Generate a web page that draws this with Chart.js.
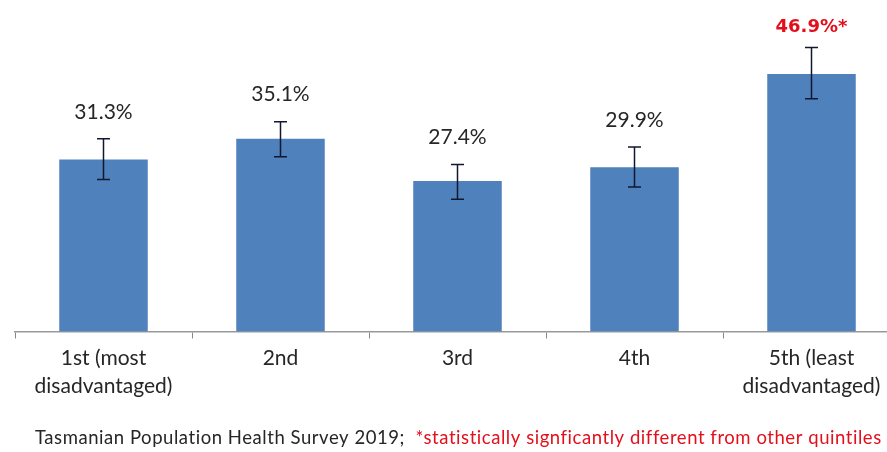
<!DOCTYPE html>
<html lang="en">
<head>
    <meta charset="UTF-8">
    <title>Quintile bar chart</title>
    <script src="https://cdn.jsdelivr.net/npm/chart.js"></script>
    <style>
        html, body { margin: 0; padding: 0; background: #fff; overflow: hidden; }
    </style>
</head>
<body>
    <canvas id="myChart" width="905" height="452"></canvas>

    <script>
        // data
        const categories = [['1st (most', 'disadvantaged)'], '2nd', '3rd', '4th', ['5th (least', 'disadvantaged)']];
        const values = [31.3, 35.1, 27.4, 29.9, 46.9];
        const ciLow = [27.7, 31.8, 24.1, 26.3, 42.4];
        const ciHigh = [35.1, 38.2, 30.4, 33.6, 51.7];
        const valueLabels = ['31.3%', '35.1%', '27.4%', '29.9%', '46.9%*'];
        const significant = [false, false, false, false, true];
        const sourceText = 'Tasmanian Population Health Survey 2019;';
        const noteText = '*statistically signficantly different from other quintiles';

        const FONT = 'Lato, "DejaVu Sans", sans-serif';

        // error bars + value labels + footer
        const extrasPlugin = {
            id: 'extras',
            afterDatasetsDraw: (chart) => {
                const { ctx, scales: { x, y } } = chart;
                ctx.save();
                ctx.strokeStyle = '#101830';
                ctx.lineWidth = 1.5;
                values.forEach((v, i) => {
                    const xp = x.getPixelForValue(i);
                    const yt = y.getPixelForValue(ciHigh[i]);
                    const yb = y.getPixelForValue(ciLow[i]);
                    ctx.beginPath();
                    ctx.moveTo(xp, yt); ctx.lineTo(xp, yb);
                    ctx.moveTo(xp - 6.5, yt); ctx.lineTo(xp + 6.5, yt);
                    ctx.moveTo(xp - 6.5, yb); ctx.lineTo(xp + 6.5, yb);
                    ctx.stroke();

                    ctx.textAlign = 'center';
                    ctx.textBaseline = 'middle';
                    if (significant[i]) {
                        ctx.font = 'bold 18px "DejaVu Sans", sans-serif';
                        ctx.fillStyle = '#e3101c';
                        ctx.fillText(valueLabels[i], xp, yt - 20);
                    } else {
                        ctx.font = '21px ' + FONT;
                        ctx.fillStyle = '#262626';
                        ctx.fillText(valueLabels[i], xp, yt - 27);
                    }
                });

                // footer
                ctx.font = '18.5px ' + FONT;
                ctx.letterSpacing = '0.55px';
                ctx.textAlign = 'left';
                ctx.textBaseline = 'middle';
                ctx.fillStyle = '#262626';
                ctx.fillText(sourceText, 35, 438);
                const w = ctx.measureText(sourceText + '  ').width;
                ctx.fillStyle = '#e3101c';
                ctx.fillText(noteText, 35 + w, 438);
                ctx.restore();
            }
        };

        const config = {
            type: 'bar',
            data: {
                labels: categories,
                datasets: [{
                    data: values,
                    backgroundColor: '#4F81BD',
                    categoryPercentage: 1,
                    barPercentage: 0.5
                }]
            },
            options: {
                responsive: false,
                animation: false,
                layout: { padding: { left: 15, right: 5, top: 2, bottom: 0 } },
                plugins: {
                    legend: { display: false },
                    tooltip: { enabled: false }
                },
                scales: {
                    x: {
                        grid: {
                            offset: true,
                            drawOnChartArea: false,
                            drawTicks: true,
                            tickLength: 7,
                            color: '#888'
                        },
                        border: { color: '#999', width: 1.5 },
                        ticks: {
                            color: '#262626',
                            font: { family: FONT, size: 21, lineHeight: 1.33 },
                            padding: 6,
                            maxRotation: 0,
                            autoSkip: false
                        },
                        afterFit: (scale) => { scale.height = 120.5; }
                    },
                    y: {
                        display: false,
                        min: 0,
                        max: 60
                    }
                }
            },
            plugins: [extrasPlugin]
        };

        new Chart(document.getElementById('myChart').getContext('2d'), config);
    </script>
</body>
</html>
